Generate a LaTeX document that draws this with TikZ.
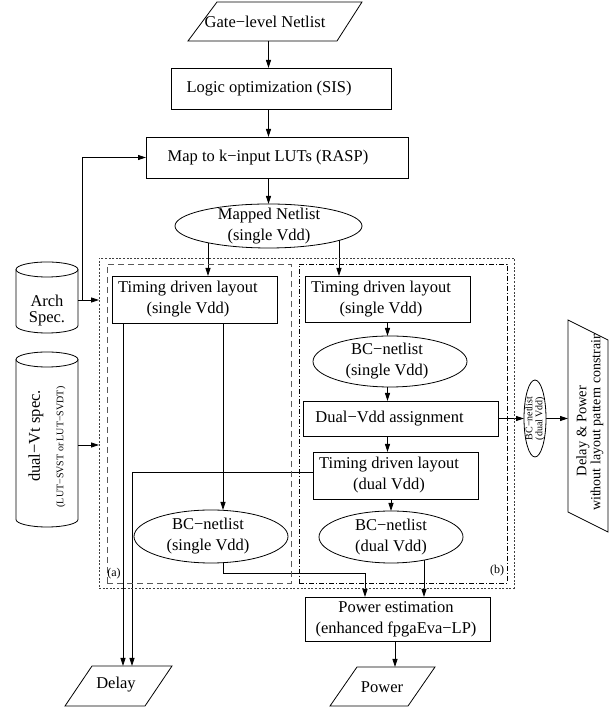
\documentclass[tikz,border=0pt]{standalone}
\usepackage{fontspec}
\setmainfont{Liberation Serif}
\usetikzlibrary{arrows.meta,backgrounds,shapes.geometric}
\begin{document}
\begin{tikzpicture}[x=1pt,y=1pt,
 every node/.style={inner sep=0pt, outer sep=0pt},
 txt/.style={font=\fontsize{16.5}{21}\selectfont, align=center},
 box/.style={draw, fill=white, rectangle, line width=0.8pt},
 ell/.style={draw, fill=white, ellipse, line width=0.8pt},
 ln/.style={line width=0.8pt},
 arr/.style={ln, -{Triangle[length=8pt,width=5pt]}},
 grpouter/.style={draw=black!75, line width=0.8pt, dash pattern=on 2pt off 1.6pt},
 grpa/.style={draw=black!65, line width=0.8pt, dash pattern=on 6pt off 4pt},
 grpb/.style={draw, line width=0.6pt, dash pattern=on 5pt off 2pt on 1pt off 2pt},
]
\useasboundingbox (0,0) rectangle (615,711);

% groups
\node[grpouter, minimum width=415pt, minimum height=330pt] (outer) at (306.5,288) {};
\node[grpa, minimum width=184pt, minimum height=319pt] (grpA) at (199,287.5) {};
\node[grpb, minimum width=208pt, minimum height=319pt] (grpB) at (403,287.5) {};
\node[font=\fontsize{12}{12}\selectfont] (la) at (114,137) {(a)};
\node[font=\fontsize{12}{12}\selectfont] (lb) at (497,140) {(b)};

% top chain
\node[minimum width=174pt, minimum height=39pt] (gate) at (275,689.5) {};
\draw[ln] (gate.south west) -- ([xshift=-25pt]gate.south east) -- (gate.north east) -- ([xshift=29pt]gate.north west) -- cycle;
\node[txt] (gatet) at (265,689.5) {Gate−level Netlist};

\node[box, minimum width=220pt, minimum height=41pt] (logic) at (281,622.5) {};
\node[txt] (logict) at (269,622.5) {Logic optimization (SIS)};
\node[box, minimum width=262pt, minimum height=41pt] (map) at (277,553.5) {};
\node[txt] (mapt) at (268,553.5) {Map to k−input LUTs (RASP)};
\node[ell, minimum width=187pt, minimum height=44pt] (mapped) at (268.5,485) {};
\node[txt] (mappedt) at (269,485) {Mapped Netlist\\(single Vdd)};

% left column
\node[box, minimum width=165pt, minimum height=47pt] (tdlA) at (194.5,411.5) {};
\node[txt] (tdlAt) at (188,411.5) {Timing driven layout\\(single Vdd)};
\node[ell, minimum width=154pt, minimum height=53pt] (bcA) at (211,174.5) {};
\node[txt] (bcAt) at (208,174.5) {BC−netlist\\(single Vdd)};

% right column
\node[box, minimum width=165pt, minimum height=46pt] (tdlB) at (387.5,412) {};
\node[txt] (tdlBt) at (381,412) {Timing driven layout\\(single Vdd)};
\node[ell, minimum width=154pt, minimum height=51pt] (bcB) at (390,349.5) {};
\node[txt] (bcBt) at (387,349.5) {BC−netlist\\(single Vdd)};
\node[box, minimum width=195pt, minimum height=35pt] (dva) at (400.5,292.5) {};
\node[txt] (dvat) at (389.5,292.5) {Dual−Vdd assignment};
\node[box, minimum width=165pt, minimum height=47pt] (tdlC) at (395.5,235.5) {};
\node[txt] (tdlCt) at (389,235.5) {Timing driven layout\\(dual Vdd)};
\node[ell, minimum width=144pt, minimum height=52pt] (bcC) at (391,174) {};
\node[txt] (bcCt) at (391,174) {BC−netlist\\(dual Vdd)};
\node[box, minimum width=185pt, minimum height=44pt] (pe) at (397.5,92) {};
\node[txt] (pet) at (396,92) {Power estimation\\(enhanced fpgaEva−LP)};

% outputs
\node[minimum width=107pt, minimum height=40pt] (delay) at (118.5,25) {};
\draw[ln] (delay.south west) -- ([xshift=-27pt]delay.south east) -- (delay.north east) -- ([xshift=27pt]delay.north west) -- cycle;
\node[txt] (delayt) at (116,26) {Delay};
\node[minimum width=105pt, minimum height=39pt] (power) at (382.5,24.5) {};
\draw[ln] (power.south west) -- ([xshift=-27pt]power.south east) -- (power.north east) -- ([xshift=27pt]power.north west) -- cycle;
\node[txt] (powert) at (382,24) {Power};

% side outputs
\node[ell, minimum width=22pt, minimum height=77pt] (bcd) at (535,292.5) {};
\node[font=\fontsize{10}{10}\selectfont, align=center, rotate=90] (bcdt) at (535,292.5) {BC−netlist\\(dual Vdd)};
\node[minimum width=40pt, minimum height=212pt] (dp) at (588,285) {};
\draw[ln] (dp.north west) -- ([yshift=-20pt]dp.north east) -- (dp.south east) -- ([yshift=20pt]dp.south west) -- cycle;
\begin{scope}
\clip (dp.north west) -- ([yshift=-20pt]dp.north east) -- (dp.south east) -- ([yshift=20pt]dp.south west) -- cycle;
\node[font=\fontsize{14.5}{14.5}\selectfont, rotate=90] (dpt1) at (583,280) {Delay \& Power};
\node[font=\fontsize{14}{14}\selectfont, rotate=90, anchor=west] (dpt2) at (597,200) {without layout pattern constraint};
\end{scope}

% cylinders
\node[minimum width=62pt, minimum height=71pt] (arch) at (47,413.5) {};
\draw[ln] ([yshift=-7.5pt]arch.north west) -- ([yshift=7.5pt]arch.south west) arc[start angle=180, end angle=360, x radius=31pt, y radius=7.5pt] -- ([yshift=-7.5pt]arch.north east);
\draw[ln] ([yshift=-7.5pt]arch.north) ellipse [x radius=31pt, y radius=7.5pt];
\node[font=\fontsize{16.5}{16}\selectfont, align=center] (archt) at (47,400.5) {Arch\\Spec.};

\node[minimum width=62pt, minimum height=175pt] (dvt) at (47,271.5) {};
\draw[ln] ([yshift=-7.5pt]dvt.north west) -- ([yshift=7.5pt]dvt.south west) arc[start angle=180, end angle=360, x radius=31pt, y radius=7.5pt] -- ([yshift=-7.5pt]dvt.north east);
\draw[ln] ([yshift=-7.5pt]dvt.north) ellipse [x radius=31pt, y radius=7.5pt];
\node[font=\fontsize{16.5}{16}\selectfont, rotate=90] (dvtt) at (36,275) {dual−Vt spec.};
\node[font=\fontsize{10}{10}\selectfont, rotate=90] (dvts) at (61,264) {(LUT−SVST or LUT−SVDT)};

% helper columns
\coordinate (xA) at (208,0);
\coordinate (xB) at (339,0);
\coordinate (xD1) at (123,0);
\coordinate (xBC) at (223,0);
\coordinate (xD2) at (132,0);
\coordinate (xP1) at (365,0);
\coordinate (xP2) at (424,0);
\coordinate (xPw) at (395,0);
\coordinate (turn) at (223,138);
\coordinate (xArch) at (82,0);

\begin{scope}[on background layer]
\draw[arr] (gate.south -| mapped) -- (logic.north -| mapped);
\draw[arr] (logic.south -| mapped) -- (map.north -| mapped);
\draw[arr] (map.south -| mapped) -- (mapped.north);
\draw[arr] (mapped.center -| xA) -- (tdlA.north -| xA);
\draw[arr] (mapped.center -| xB) -- (tdlB.north -| xB);
\draw[arr] (tdlA.center -| xD1) -- (delay.north -| xD1);
\draw[arr] (tdlA.center -| xBC) -- (bcA.north -| xBC);
\draw[arr] ([yshift=3.5pt]tdlC.west) -| (delay.north -| xD2);
\draw[arr] (bcA.center -| turn) -- (turn) -| (pe.north -| xP1);
\draw[arr] (bcC.center -| xP2) -- (pe.north -| xP2);
\draw[arr] (pe.south -| xPw) -- (power.north -| xPw);
\draw[arr] (tdlB.south) -- (tdlB.south |- bcB.north);
\draw[arr] (bcB.center -| tdlB) -- (dva.north -| tdlB);
\draw[arr] (dva.center -| tdlB) -- (tdlC.north -| tdlB);
\draw[arr] (tdlC.center -| bcC) -- (bcC.north);
\draw[arr] (dva.east) -- (bcd.west);
\draw[arr] (bcd.east) -- (bcd.east -| dp.west);
\draw[arr] ([yshift=-2.5pt]arch.east) -- ([yshift=-2.5pt]arch.east -| outer.west);
\draw[arr] ([yshift=-2.5pt]arch.east -| xArch) |- (map.west);
\draw[arr] ([yshift=-5.5pt]dvt.east) -- ([yshift=-5.5pt]dvt.east -| outer.west);
\end{scope}
\end{tikzpicture}
\end{document}
